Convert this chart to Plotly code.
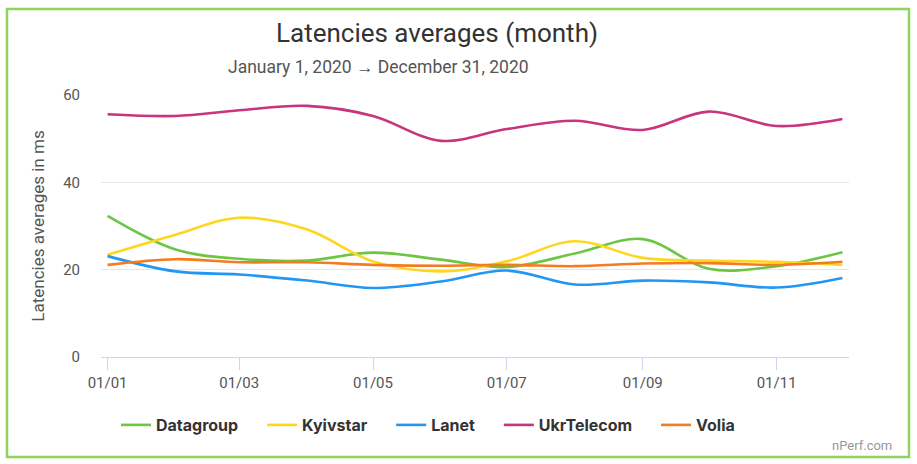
import plotly.graph_objects as go

months = ["2020-01-01", "2020-02-01", "2020-03-01", "2020-04-01", "2020-05-01", "2020-06-01",
          "2020-07-01", "2020-08-01", "2020-09-01", "2020-10-01", "2020-11-01", "2020-12-01"]

datagroup = [32.3, 24.6, 22.5, 22.1, 23.9, 22.3, 20.6, 23.7, 27.0, 20.2, 20.8, 24.0]
kyivstar = [23.4, 28.0, 31.9, 29.2, 21.9, 19.6, 21.9, 26.5, 22.7, 22.1, 21.8, 21.1]
lanet = [23.1, 19.6, 18.9, 17.5, 15.8, 17.3, 19.8, 16.6, 17.5, 17.1, 15.9, 18.1]
ukrtelecom = [55.6, 55.2, 56.5, 57.5, 55.2, 49.5, 52.2, 54.1, 52.0, 56.2, 52.9, 54.5]
volia = [21.1, 22.4, 21.7, 21.7, 21.1, 20.9, 21.1, 20.8, 21.4, 21.5, 21.1, 21.8]

series = [
    ("Datagroup", datagroup, "#6cc644"),
    ("Kyivstar", kyivstar, "#ffd61e"),
    ("Lanet", lanet, "#2196f3"),
    ("UkrTelecom", ukrtelecom, "#c8347d"),
    ("Volia", volia, "#f47b20"),
]

fig = go.Figure()
for i, (name, vals, col) in enumerate(series):
    # extra gap after each legend entry, like the original
    pad = "\u00a0" * 5 if i < len(series) - 1 else ""
    fig.add_trace(go.Scatter(
        x=months, y=vals, name=name + pad, mode="lines",
        line=dict(color=col, width=2.6, shape="spline", smoothing=1.0),
    ))

# plot area in pixels: x 101..849, y 95..357
L, R, T, B = 101, 68, 95, 107
W, H = 917, 464
pw, ph = W - L - R, H - T - B

def px_x(p):
    return (p - L) / pw

def px_y(p):
    return (H - B - p) / ph

fig.update_layout(
    width=W, height=H,
    margin=dict(l=L, r=R, t=T, b=B),
    paper_bgcolor="white", plot_bgcolor="white",
    font=dict(family="Roboto", color="#555"),
    title=dict(text="Latencies averages (month)", x=437 / W, xref="container",
               y=1 - 33 / H, yref="container", xanchor="center", yanchor="middle",
               font=dict(size=26, color="#333")),
    legend=dict(orientation="h", xref="container", yref="container",
                x=116 / W, y=1 - 425 / H, xanchor="left", yanchor="middle",
                font=dict(family="Inter", size=16, color="#333", weight="bold"),
                itemwidth=30),
    showlegend=True,
    xaxis=dict(
        range=["2019-12-29", "2020-12-04"],
        tickformat="%d/%m", dtick="M2", tick0="2020-01-01",
        ticks="outside", ticklen=12, tickcolor="#ccd6eb", tickwidth=1,
        showline=True, linecolor="#ccd6eb", linewidth=1,
        showgrid=False, zeroline=False,
        tickfont=dict(size=15, color="#555"),
    ),
    yaxis=dict(
        range=[0, 60], dtick=20,
        showgrid=True, gridcolor="#e6e6e6", gridwidth=1,
        zeroline=False, showline=False,
        ticks="", ticklabelstandoff=20,
        tickfont=dict(size=15, color="#555"),
        title=dict(text="Latencies averages in ms", font=dict(size=17, color="#555"), standoff=14),
    ),
)

fig.add_annotation(text="January 1, 2020 → December 31, 2020", xref="paper", yref="paper",
                   x=px_x(378), y=px_y(67), showarrow=False, xanchor="center", yanchor="middle",
                   font=dict(size=17.5, color="#555"))
fig.add_annotation(text="nPerf.com", xref="paper", yref="paper",
                   x=px_x(894), y=px_y(445), showarrow=False, xanchor="right", yanchor="middle",
                   font=dict(size=13, color="#999"))

# green frame around the whole chart
fig.add_shape(type="rect", xref="paper", yref="paper",
              x0=px_x(7), x1=px_x(909), y0=px_y(457), y1=px_y(9),
              line=dict(color="#8fd45c", width=2.5), layer="below")

fig.write_html("out.html", config={"displayModeBar": False},
               post_script="document.body.style.margin='0';document.body.style.overflow='hidden';")
